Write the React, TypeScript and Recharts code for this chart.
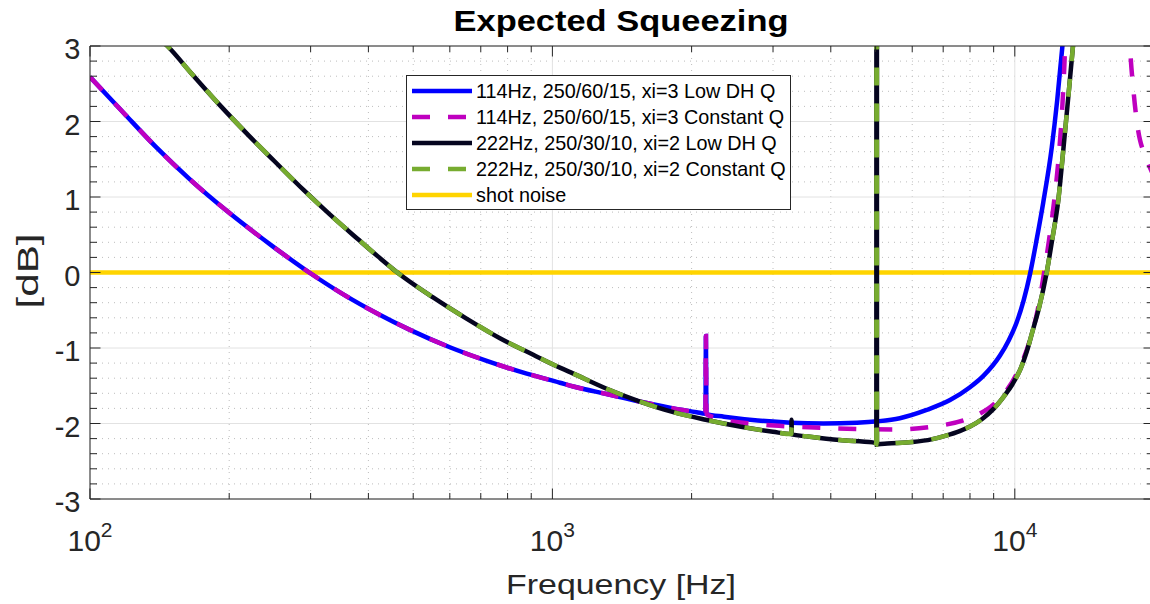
import React from 'react';
import { ComposedChart, Line, XAxis, YAxis, CartesianGrid } from 'recharts';

const FONT = '"Liberation Sans", Arial, Helvetica, sans-serif';
const AXIS = '#262626';

// ---- tick values ----
const xMajorTicks = [100, 1000, 10000];
const xMajorBase = ['10', '10', '10'];
const xMajorExp = ['2', '3', '4'];
const xMinorTicks = [200, 300, 400, 500, 600, 700, 800, 900, 2000, 3000, 4000, 5000, 6000, 7000, 8000, 9000, 20000];
const yMajorTicks = [-3, -2, -1, 0, 1, 2, 3];
const yMajorLabels = ['-3', '-2', '-1', '0', '1', '2', '3'];
const yMinorTicks = [-2.8, -2.6, -2.4, -2.2, -1.8, -1.6, -1.4, -1.2, -0.8, -0.6, -0.4, -0.2, 0.2, 0.4, 0.6, 0.8, 1.2, 1.4, 1.6, 1.8, 2.2, 2.4, 2.6, 2.8];

// ---- series values (frequency in Hz, squeezing in dB) ----
// 114Hz curves: shared low-frequency part (incl. narrow spike)
const sharedF = [100, 118, 139, 164, 200, 248, 298, 353, 417, 492, 600, 721, 880, 1038, 1110, 1310, 1547, 1826, 2050, 2143, 2148, 2153];
const sharedDb = [2.59, 2.12, 1.66, 1.24, 0.79, 0.35, 0.0, -0.29, -0.54, -0.76, -0.99, -1.17, -1.34, -1.46, -1.51, -1.61, -1.71, -1.8, -1.85, -1.87, -0.84, -1.875];
// 114Hz Low DH Q, high-frequency part
const blueF = [2350, 2781, 3280, 3860, 4556, 5064, 5640, 6449, 7243, 8000, 8551, 9290, 9700, 10095, 10450, 10787, 11152, 11523, 12022, 12350, 12667, 13000];
const blueDb = [-1.91, -1.96, -1.99, -2.0, -1.99, -1.97, -1.93, -1.82, -1.69, -1.52, -1.37, -1.1, -0.9, -0.66, -0.37, -0.02, 0.44, 0.93, 1.66, 2.28, 2.98, 3.8];
// 114Hz Constant Q, high-frequency part
const magF = [2240, 2780, 3280, 3940, 4730, 5500, 6665, 7740, 8400, 8985, 9600, 10095, 10787, 11204, 11571, 11858, 12150, 12451, 12657, 12800, 12900, 13100, 17400, 17750, 18050, 18410, 19320, 20000];
const magDb = [-1.92, -2.01, -2.04, -2.06, -2.075, -2.08, -2.04, -1.96, -1.87, -1.75, -1.56, -1.34, -0.89, -0.5, 0.0, 0.43, 0.92, 1.55, 2.15, 2.75, 3.3, 4.5, 4.5, 3.0, 2.42, 1.95, 1.49, 1.27];
// 222Hz curves
const bF = [140, 147, 165, 190, 220, 250, 290, 330, 380, 420, 462, 552, 652, 770, 909, 1038, 1110, 1310, 1547, 1826, 2145, 2541, 2999, 3286, 3290, 3294, 3542, 4176, 4929, 5018, 5024, 5030, 5034, 5060, 5300, 5990, 6600, 7100, 7600, 8000, 8500, 8985, 9500, 9883, 10300, 10610, 10920, 11300, 11720, 12050, 12420, 12730, 13050, 13360, 13700];
const blackDb = [3.12, 3.0, 2.65, 2.23, 1.82, 1.48, 1.09, 0.77, 0.44, 0.21, 0.0, -0.33, -0.61, -0.87, -1.09, -1.26, -1.34, -1.54, -1.71, -1.85, -1.95, -2.04, -2.11, -2.14, -1.95, -2.145, -2.17, -2.22, -2.25, -2.26, 20, 20, -2.28, -2.275, -2.265, -2.245, -2.21, -2.16, -2.1, -2.04, -1.94, -1.81, -1.63, -1.48, -1.27, -1.05, -0.78, -0.45, 0.0, 0.44, 0.96, 1.62, 2.32, 3.0, 3.8];
const greenDb = [3.12, 3.0, 2.65, 2.23, 1.82, 1.48, 1.09, 0.77, 0.44, 0.21, 0.0, -0.33, -0.61, -0.87, -1.09, -1.26, -1.34, -1.54, -1.71, -1.85, -1.95, -2.04, -2.11, -2.14, -2.05, -2.145, -2.17, -2.22, -2.25, -2.26, 20, 20, -2.28, -2.275, -2.265, -2.245, -2.21, -2.16, -2.1, -2.04, -1.94, -1.81, -1.63, -1.48, -1.27, -1.05, -0.78, -0.45, 0.0, 0.44, 0.96, 1.62, 2.32, 3.0, 3.8];
// shot noise reference
const shotF = [100, 20000];
const shotDb = [0, 0];

const seriesNames = [
  '114Hz, 250/60/15, xi=3 Low DH Q',
  '114Hz, 250/60/15, xi=3 Constant Q',
  '222Hz, 250/30/10, xi=2 Low DH Q',
  '222Hz, 250/30/10, xi=2 Constant Q',
  'shot noise',
];

type Series = { key: string; name: string; color: string; dash?: string; f: number[]; db: number[] };
const series: Series[] = [
  { key: 'blue', name: seriesNames[0], color: '#0000ff', f: [...sharedF, ...blueF], db: [...sharedDb, ...blueDb] },
  { key: 'mag', name: seriesNames[1], color: '#bf00bf', dash: '18 18', f: [...sharedF, ...magF], db: [...sharedDb, ...magDb] },
  { key: 'black', name: seriesNames[2], color: '#05051f', f: bF, db: blackDb },
  { key: 'green', name: seriesNames[3], color: '#77ac30', dash: '18 18', f: bF, db: greenDb },
  { key: 'shot', name: seriesNames[4], color: '#ffd400', f: shotF, db: shotDb },
];

const rowMap = new Map<number, Record<string, number>>();
series.forEach((s) => {
  s.f.forEach((f, i) => {
    const r = rowMap.get(f) ?? { f };
    r[s.key] = s.db[i];
    rowMap.set(f, r);
  });
});
const chartData = Array.from(rowMap.values()).sort((a, b) => a.f - b.f);

const xAllTicks = [...xMajorTicks, ...xMinorTicks].sort((a, b) => a - b);
const yAllTicks = [...yMajorTicks, ...yMinorTicks].sort((a, b) => a - b);

const BottomTick = (props: any) => {
  const { x, y, payload } = props;
  const idx = xMajorTicks.indexOf(payload.value);
  const major = idx >= 0;
  return (
    <g>
      <line x1={x} x2={x} y1={y} y2={y - (major ? 10.5 : 6)} stroke={AXIS} strokeWidth={1} />
      {major && (
        <text x={x} y={y + 52} textAnchor="middle" fontFamily={FONT} fontSize={30} fill={AXIS}>
          {xMajorBase[idx]}
          <tspan dy={-14} fontSize={21}>{xMajorExp[idx]}</tspan>
        </text>
      )}
    </g>
  );
};

const TopTick = (props: any) => {
  const { x, y, payload } = props;
  const major = xMajorTicks.includes(payload.value);
  return <line x1={x} x2={x} y1={y} y2={y + (major ? 10.5 : 6)} stroke={AXIS} strokeWidth={1} />;
};

const LeftTick = (props: any) => {
  const { x, y, payload } = props;
  const idx = yMajorTicks.indexOf(payload.value);
  const major = idx >= 0;
  return (
    <g>
      <line x1={x} x2={x + (major ? 10.5 : 7)} y1={y} y2={y} stroke={AXIS} strokeWidth={1} />
      {major && (
        <text x={x - 9.5} y={y + 13} textAnchor="end" fontFamily={FONT} fontSize={29} fill={AXIS}>
          {yMajorLabels[idx]}
        </text>
      )}
    </g>
  );
};

const RightTick = (props: any) => {
  const { x, y, payload } = props;
  const major = yMajorTicks.includes(payload.value);
  return <line x1={x} x2={x - (major ? 10.5 : 7)} y1={y} y2={y} stroke={AXIS} strokeWidth={1} />;
};

const legendRows = [91, 117, 143, 169, 195];

export default function App() {
  return (
    <div style={{ position: 'absolute', left: 0, top: 0, width: 1150, height: 604, overflow: 'hidden', background: '#fff' }}>
      <ComposedChart
        width={1158}
        height={604}
        data={chartData}
        margin={{ top: 16, right: 0, bottom: 45, left: 0 }}
      >
        <CartesianGrid
          horizontalValues={yMinorTicks}
          verticalValues={xMinorTicks}
          stroke="#bdbdbd"
          strokeDasharray="1 5"
        />
        <CartesianGrid horizontalValues={yMajorTicks} verticalValues={xMajorTicks} stroke="#e2e2e2" />
        <XAxis
          dataKey="f"
          type="number"
          scale="log"
          domain={[100, 20000]}
          allowDataOverflow
          ticks={xAllTicks}
          interval={0}
          height={60}
          tickSize={0}
          tickMargin={0}
          tickLine={false}
          axisLine={{ stroke: AXIS }}
          tick={BottomTick}
        />
        <XAxis
          xAxisId="top"
          orientation="top"
          dataKey="f"
          type="number"
          scale="log"
          domain={[100, 20000]}
          allowDataOverflow
          ticks={xAllTicks}
          interval={0}
          height={30}
          tickSize={0}
          tickMargin={0}
          tickLine={false}
          axisLine={{ stroke: AXIS }}
          tick={TopTick}
        />
        <YAxis
          type="number"
          domain={[-3, 3]}
          allowDataOverflow
          ticks={yAllTicks}
          interval={0}
          width={90}
          tickSize={0}
          tickMargin={0}
          tickLine={false}
          axisLine={{ stroke: AXIS }}
          tick={LeftTick}
        />
        <YAxis
          yAxisId="right"
          orientation="right"
          type="number"
          domain={[-3, 3]}
          allowDataOverflow
          ticks={yAllTicks}
          interval={0}
          width={4}
          tickSize={0}
          tickMargin={0}
          tickLine={false}
          axisLine={{ stroke: AXIS }}
          tick={RightTick}
        />
        <Line dataKey="shot" stroke="#ffd400" strokeWidth={4.5} dot={false} activeDot={false} connectNulls type="linear" isAnimationActive={false} />
        {series.slice(0, 4).map((s) => (
          <Line
            key={s.key}
            dataKey={s.key}
            stroke={s.color}
            strokeWidth={4.5}
            strokeDasharray={s.dash}
            dot={false}
            activeDot={false}
            connectNulls
            type="monotone"
            isAnimationActive={false}
          />
        ))}
      </ComposedChart>
      <svg width={1150} height={604} style={{ position: 'absolute', left: 0, top: 0, pointerEvents: 'none' }}>
        <text x={621} y={31} textAnchor="middle" fontFamily={FONT} fontWeight="bold" fontSize={30} fill="#000" textLength={335} lengthAdjust="spacingAndGlyphs">
          Expected Squeezing
        </text>
        <text x={621} y={594} textAnchor="middle" fontFamily={FONT} fontSize={28} fill={AXIS} textLength={230} lengthAdjust="spacingAndGlyphs">
          Frequency [Hz]
        </text>
        <text x={0} y={0} transform="translate(38,271) rotate(-90)" textAnchor="middle" fontFamily={FONT} fontSize={30} fill={AXIS} textLength={75} lengthAdjust="spacingAndGlyphs">
          [dB]
        </text>
        <rect x={406.5} y={75.5} width={384} height={134} fill="#fff" stroke={AXIS} strokeWidth={1} />
        {series.map((s, i) => (
          <g key={s.key}>
            <line x1={412} x2={472} y1={legendRows[i]} y2={legendRows[i]} stroke={s.color} strokeWidth={4.5} strokeDasharray={s.dash} />
            <text x={476} y={legendRows[i] + 7} fontFamily={FONT} fontSize={19.8} fill="#000">
              {s.name}
            </text>
          </g>
        ))}
      </svg>
    </div>
  );
}
